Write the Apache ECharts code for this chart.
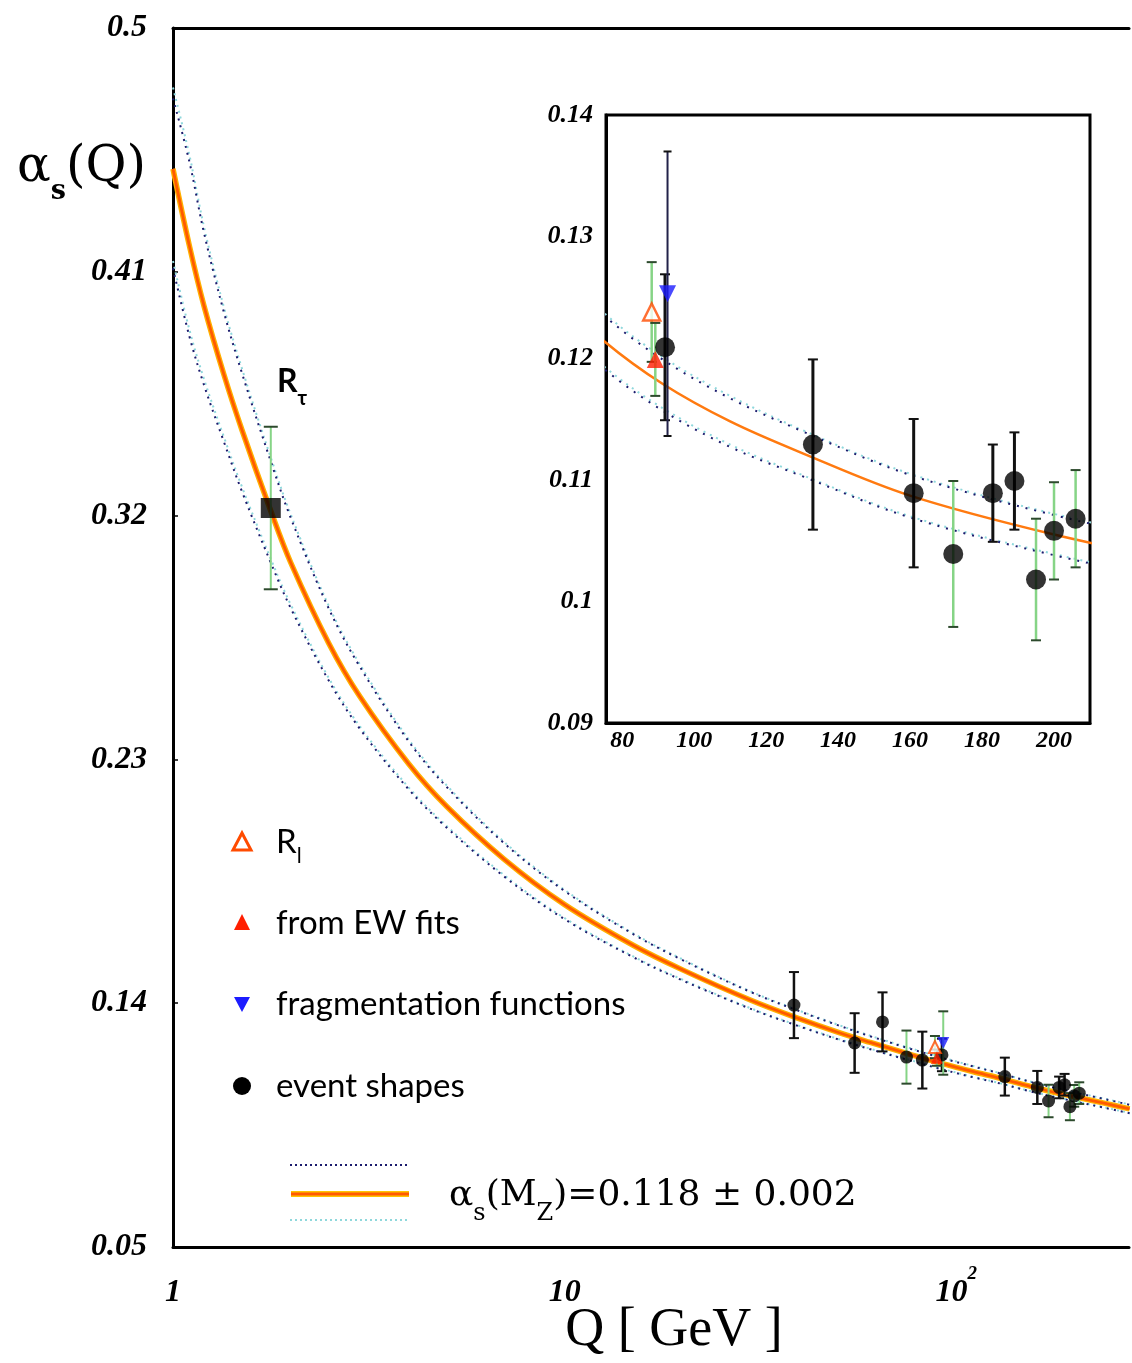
<!DOCTYPE html>
<html><head><meta charset="utf-8">
<script src="https://cdn.jsdelivr.net/npm/echarts@6/dist/echarts.min.js"></script>
<style>html,body{margin:0;padding:0;background:#fff}#c{width:1132px;height:1363px}</style>
</head><body><div id="c"></div>
<script>
// ---------------- data ----------------
const Q_CURVE       = [1, 1.1, 1.2, 1.35, 1.5, 1.777, 2, 2.5, 3, 4, 5, 7, 10, 15, 20, 30, 40, 50, 60, 75, 91.2, 110, 130, 160, 200, 240, 277];
const ALPHA_CENTRAL = [0.448, 0.4199, 0.3974, 0.3719, 0.3516, 0.3217, 0.3025, 0.2728, 0.2532, 0.2283, 0.2126, 0.1932, 0.1764, 0.1613, 0.1523, 0.1410, 0.1341, 0.1292, 0.1256, 0.1214, 0.1179, 0.1148, 0.1122, 0.1087, 0.1055, 0.1030, 0.1010];
const BAND_UP_DARK  = [0.474, 0.4509, 0.4244, 0.3949, 0.3726, 0.340, 0.3190, 0.2856, 0.2642, 0.2366, 0.2198, 0.1991, 0.1814, 0.1654, 0.1559, 0.1440, 0.1369, 0.1318, 0.1279, 0.1235, 0.1199, 0.1167, 0.1140, 0.1104, 0.1071, 0.10455, 0.1025];
const BAND_UP_CYAN  = [0.478, 0.4534, 0.4266, 0.3967, 0.3743, 0.3414, 0.3203, 0.2866, 0.2651, 0.2373, 0.2204, 0.1996, 0.1818, 0.1657, 0.1562, 0.1442, 0.1371, 0.1320, 0.1281, 0.1237, 0.1201, 0.1169, 0.1141, 0.1105, 0.1072, 0.1047, 0.1026];
const BAND_LO_DARK  = [0.4113, 0.3864, 0.3682, 0.3471, 0.3289, 0.3026, 0.2857, 0.2590, 0.2413, 0.2189, 0.2048, 0.1868, 0.1710, 0.1569, 0.1484, 0.1378, 0.1313, 0.1266, 0.1231, 0.1191, 0.1157, 0.1127, 0.1103, 0.1069, 0.1038, 0.10133, 0.0994];
const BAND_LO_CYAN  = [0.414, 0.3889, 0.3704, 0.3489, 0.3306, 0.304, 0.2870, 0.2600, 0.2422, 0.2196, 0.2054, 0.1873, 0.1714, 0.1572, 0.1487, 0.1380, 0.1315, 0.1268, 0.1233, 0.1193, 0.1159, 0.1129, 0.1104, 0.1070, 0.1039, 0.10145, 0.0995];

// event shapes
const ES_Q     = [38.5, 55, 64.8, 74.6, 81.9, 91.9, 133, 161, 172, 183, 189, 195, 200, 206];
const ES_ALPHA = [0.1393, 0.1253, 0.1331, 0.1201, 0.1190, 0.1209, 0.1129, 0.1089, 0.1039, 0.1089, 0.1099, 0.1018, 0.1058, 0.1068];
const ES_ERR   = [0.0122, 0.0110, 0.0109, 0.0098, 0.0105, 0.0060, 0.0070, 0.0061, 0.0060, 0.0040, 0.0040, 0.0050, 0.0040, 0.0040];
const ES_GROUP = [0, 0, 0, 1, 0, 0, 0, 0, 1, 0, 0, 1, 1, 1];   // 0 / 1 : two families of measurements
// R_l
const RL_Q = [88.2];  const RL_ALPHA = [0.1238]; const RL_ERR = [0.0041];
// from EW fits
const EW_Q = [89.2];  const EW_ALPHA = [0.1199]; const EW_ERR = [0.0030];
// fragmentation functions
const FF_Q = [92.6];  const FF_ALPHA = [0.1253]; const FF_ERR = [0.0117];
// R_tau
const TAU_Q = [1.777]; const TAU_ALPHA = [0.3228]; const TAU_ERR = [0.0300];

// tick labels
const MAIN_X_TICKS  = [1, 10, 100];
const MAIN_Y_TICKS  = [0.05, 0.14, 0.23, 0.32, 0.41, 0.5];
const INSET_X_TICKS = [80, 100, 120, 140, 160, 180, 200];
const INSET_Y_TICKS = [0.09, 0.10, 0.11, 0.12, 0.13, 0.14];

// ---------------- chart ----------------
const chart = echarts.init(document.getElementById('c'), null, {renderer: 'canvas'});
const near = (list, v) => list.some(t => Math.abs(t - v) < 1e-7 * Math.max(1, Math.abs(t)));
const LAB_FONT = "'Liberation Serif', serif";

const ORANGE = '#ff5a00', NAVY = '#1c1c6e', CYAN = '#8fd8dc', GREEN = '#86d486';

function curve(data, color, width, type, xi, yi, z) {
  return { type: 'line', xAxisIndex: xi, yAxisIndex: yi, data: Q_CURVE.map((q, i) => [q, data[i]]),
    showSymbol: false, smooth: 0.35, clip: true, z: z || 2, silent: true,
    lineStyle: { color: color, width: width, type: type } };
}
function errSeries(qs, as, es, gs, xi, yi, cap, bw, filt) {
  const d = [];
  qs.forEach((q, i) => { if (!filt || filt(q)) d.push([q, as[i] - es[i], as[i] + es[i], gs[i]]); });
  return { type: 'custom', xAxisIndex: xi, yAxisIndex: yi, data: d, clip: true, z: 3, silent: true,
    renderItem: (params, api) => {
      const x = api.value(0), lo = api.value(1), hi = api.value(2), g = api.value(3);
      const p1 = api.coord([x, hi]), p2 = api.coord([x, lo]);
      const col = g === 1 ? GREEN : (g === 2 ? '#22224a' : '#111');
      const w = g === 0 ? bw : (g === 2 ? 2 : bw - 0.5);
      const capCol = g === 1 ? '#2d4a2d' : '#111';
      return { type: 'group', children: [
        { type: 'line', shape: { x1: p1[0], y1: p1[1], x2: p2[0], y2: p2[1] }, style: { stroke: col, lineWidth: w } },
        { type: 'line', shape: { x1: p1[0] - cap, y1: p1[1], x2: p1[0] + cap, y2: p1[1] }, style: { stroke: capCol, lineWidth: 2 } },
        { type: 'line', shape: { x1: p2[0] - cap, y1: p2[1], x2: p2[0] + cap, y2: p2[1] }, style: { stroke: capCol, lineWidth: 2 } }
      ]};
    } };
}
function pts(qs, as, xi, yi, symbol, size, style, rot, filt) {
  const d = [];
  qs.forEach((q, i) => { if (!filt || filt(q)) d.push([q, as[i]]); });
  return { type: 'scatter', xAxisIndex: xi, yAxisIndex: yi, data: d, symbol: symbol, symbolSize: size,
    symbolRotate: rot || 0, itemStyle: style, z: 4, silent: true, clip: true };
}

const inInset = q => q >= 85;

const series = [];
// main panel (x 0, y 0)
series.push(curve(BAND_UP_CYAN, CYAN, 2, [2, 4], 0, 0));
series.push(curve(BAND_LO_CYAN, CYAN, 2, [2, 4], 0, 0));
series.push(curve(BAND_UP_DARK, NAVY, 2, [2, 5], 0, 0));
series.push(curve(BAND_LO_DARK, NAVY, 2, [2, 5], 0, 0));
series.push(curve(ALPHA_CENTRAL, '#ffb000', 5.5, 'solid', 0, 0, 2));
series.push(curve(ALPHA_CENTRAL, ORANGE, 2.8, 'solid', 0, 0, 2));
series.push(errSeries(ES_Q, ES_ALPHA, ES_ERR, ES_GROUP, 0, 0, 5, 2.5));
series.push(errSeries(RL_Q, RL_ALPHA, RL_ERR, [1], 0, 0, 5, 2.5));
series.push(errSeries(EW_Q, EW_ALPHA, EW_ERR, [1], 0, 0, 5, 2.5));
series.push(errSeries(FF_Q, FF_ALPHA, FF_ERR, [1], 0, 0, 5, 2.5));
series.push(errSeries(TAU_Q, TAU_ALPHA, TAU_ERR, [1], 0, 0, 7, 2.5));
series.push(pts(ES_Q, ES_ALPHA, 0, 0, 'circle', 13, { color: '#000' }));
series.push(pts(RL_Q, RL_ALPHA, 0, 0, 'triangle', 12, { color: '#fff', borderColor: '#ff4b00', borderWidth: 2 }));
series.push(pts(EW_Q, EW_ALPHA, 0, 0, 'triangle', 12, { color: '#ff1e00' }));
series.push(pts(FF_Q, FF_ALPHA, 0, 0, 'triangle', 12, { color: '#1c1cff' }, 180));
series.push(pts(TAU_Q, TAU_ALPHA, 0, 0, 'rect', 20, { color: '#000' }));
// inset panel (x 2, y 1)
series.push(curve(BAND_UP_CYAN, CYAN, 2, [2, 5], 2, 1));
series.push(curve(BAND_LO_CYAN, CYAN, 2, [2, 5], 2, 1));
series.push(curve(BAND_UP_DARK, NAVY, 2, [2, 7], 2, 1));
series.push(curve(BAND_LO_DARK, NAVY, 2, [2, 7], 2, 1));
series.push(curve(ALPHA_CENTRAL, '#ff7a10', 2.5, 'solid', 2, 1));
series.push(errSeries(ES_Q, ES_ALPHA, ES_ERR, ES_GROUP, 2, 1, 5, 3, inInset));
series.push(errSeries(RL_Q, RL_ALPHA, RL_ERR, [1], 2, 1, 5, 3));
series.push(errSeries(EW_Q, EW_ALPHA, EW_ERR, [1], 2, 1, 5, 3));
series.push(errSeries(FF_Q, FF_ALPHA, FF_ERR, [2], 2, 1, 4, 3));
series.push(pts(ES_Q, ES_ALPHA, 2, 1, 'circle', 20, { color: '#000' }, 0, inInset));
series.push(pts(RL_Q, RL_ALPHA, 2, 1, 'triangle', 17, { color: '#fff', borderColor: '#ff4b00', borderWidth: 2.5 }));
series.push(pts(EW_Q, EW_ALPHA, 2, 1, 'triangle', 17, { color: '#ff1e00' }));
series.push(pts(FF_Q, FF_ALPHA, 2, 1, 'triangle', 17, { color: '#1c1cff' }, 180));

// ---------------- graphic text helpers ----------------
const mctx = document.createElement('canvas').getContext('2d');
function seq(x, y, parts) {
  const out = []; let cx = x;
  parts.forEach(p => {
    mctx.font = p.font; const w = mctx.measureText(p.t).width;
    out.push({ type: 'text', x: cx, y: y + (p.dy || 0), z: 100, silent: true,
      style: { text: p.t, font: p.font, fill: '#000', align: 'left', verticalAlign: 'middle', textAlign: 'left', textVerticalAlign: 'middle' } });
    cx += w + (p.gap || 0);
  });
  return out;
}
const SERIF = "'DejaVu Serif', serif";
const SANS = "Lato, 'Noto Sans', sans-serif";
let graphics = [];
// y title
graphics = graphics.concat(seq(17, 168, [
  { t: 'α', font: `50px ${SERIF}` },
  { t: 's', font: `bold 27px ${SERIF}`, dy: 24 },
  { t: '(Q)', font: `50px ${SERIF}` }
]));
// x title
graphics.push({ type: 'text', x: 674, y: 1331, z: 100, silent: true,
  style: { text: 'Q [ GeV ]', font: `54px ${LAB_FONT}`, fill: '#000', align: 'center', verticalAlign: 'middle', textAlign: 'center', textVerticalAlign: 'middle' } });
// R_tau label
graphics = graphics.concat(seq(277, 382, [
  { t: 'R', font: `bold 32px ${SANS}` },
  { t: 'τ', font: `bold 20px ${SANS}`, dy: 17 }
]));
// legend markers
graphics.push({ type: 'polygon', z: 100, silent: true, shape: { points: [[242, 833], [233, 850], [251, 850]] }, style: { fill: '#fff', stroke: '#ff4b00', lineWidth: 3 } });
graphics.push({ type: 'polygon', z: 100, silent: true, shape: { points: [[242, 914], [234, 930], [250, 930]] }, style: { fill: '#ff1e00' } });
graphics.push({ type: 'polygon', z: 100, silent: true, shape: { points: [[234, 997], [250, 997], [242, 1012]] }, style: { fill: '#1c1cff' } });
graphics.push({ type: 'circle', z: 100, silent: true, shape: { cx: 242, cy: 1086, r: 9 }, style: { fill: '#000' } });
// legend text
graphics = graphics.concat(seq(276, 842, [
  { t: 'R', font: `33px ${SANS}` },
  { t: 'l', font: `21px ${SANS}`, dy: 14 }
]));
graphics = graphics.concat(seq(276, 923, [{ t: 'from EW fits', font: `33px ${SANS}` }]));
graphics = graphics.concat(seq(276, 1004, [{ t: 'fragmentation functions', font: `33px ${SANS}` }]));
graphics = graphics.concat(seq(276, 1086, [{ t: 'event shapes', font: `33px ${SANS}` }]));
// bottom legend lines
graphics.push({ type: 'line', z: 100, silent: true, shape: { x1: 290, y1: 1165, x2: 410, y2: 1165 }, style: { stroke: NAVY, lineWidth: 2, lineDash: [2, 3] } });
graphics.push({ type: 'line', z: 100, silent: true, shape: { x1: 291, y1: 1194, x2: 409, y2: 1194 }, style: { stroke: '#ffc400', lineWidth: 6 } });
graphics.push({ type: 'line', z: 101, silent: true, shape: { x1: 291, y1: 1194, x2: 409, y2: 1194 }, style: { stroke: ORANGE, lineWidth: 3 } });
graphics.push({ type: 'line', z: 100, silent: true, shape: { x1: 290, y1: 1220, x2: 410, y2: 1220 }, style: { stroke: CYAN, lineWidth: 2, lineDash: [2, 3] } });
graphics = graphics.concat(seq(449, 1196, [
  { t: 'α', font: `36px ${SERIF}` },
  { t: 's', font: `24px ${SERIF}`, dy: 18 },
  { t: '(M', font: `36px ${SERIF}` },
  { t: 'Z', font: `24px ${SERIF}`, dy: 18 },
  { t: ')=0.118 ± 0.002', font: `36px ${SERIF}` }
]));

const axisLabelBase = { fontFamily: LAB_FONT, fontWeight: 'bold', fontStyle: 'italic', color: '#000' };

const option = {
  animation: false,
  backgroundColor: '#fff',
  grid: [
    { left: 173, top: 28, right: 0, bottom: 116 },
    { left: 606, top: 115, width: 484, height: 608, show: true, borderColor: '#000', borderWidth: 3, backgroundColor: 'transparent' }
  ],
  xAxis: [
    { type: 'log', logBase: 10, gridIndex: 0, min: 1, max: 276, position: 'bottom',
      axisLine: { lineStyle: { color: '#000', width: 3 } }, axisTick: { show: false }, splitLine: { show: false },
      axisLabel: Object.assign({}, axisLabelBase, { fontSize: 32, margin: 18, showMinLabel: true,
        formatter: v => {
          if (!near(MAIN_X_TICKS, v)) return '';
          if (Math.abs(v - 100) < 1e-6) return '{b|10}{sup|2}';
          return '{b|' + Math.round(v) + '}';
        },
        rich: { b: { fontFamily: LAB_FONT, fontWeight: 'bold', fontStyle: 'italic', fontSize: 32, padding: [12, 0, 0, 0] },
                sup: { fontFamily: LAB_FONT, fontWeight: 'bold', fontStyle: 'italic', fontSize: 19, verticalAlign: 'top' } } }) },
    { type: 'log', logBase: 10, gridIndex: 0, min: 1, max: 276, position: 'top',
      axisLine: { lineStyle: { color: '#000', width: 3 } }, axisTick: { show: false }, axisLabel: { show: false }, splitLine: { show: false } },
    { type: 'value', gridIndex: 1, min: 75.5, max: 210, splitNumber: 7,
      axisLine: { lineStyle: { color: '#000', width: 3 } }, axisTick: { show: false }, splitLine: { show: false },
      axisLabel: Object.assign({}, axisLabelBase, { fontSize: 24, margin: 6,
        formatter: v => near(INSET_X_TICKS, v) ? String(Math.round(v)) : '' }) }
  ],
  yAxis: [
    { type: 'value', gridIndex: 0, min: 0.05, max: 0.5, interval: 0.09,
      axisLine: { lineStyle: { color: '#000', width: 3 } },
      axisTick: { show: true, inside: true, length: 5, lineStyle: { color: '#000', width: 1.5 } }, splitLine: { show: false },
      axisLabel: Object.assign({}, axisLabelBase, { fontSize: 32, margin: 26,
        formatter: v => near(MAIN_Y_TICKS, v) ? String(+v.toFixed(2)) : '' }) },
    { type: 'value', gridIndex: 1, min: 0.09, max: 0.14, interval: 0.01,
      axisLine: { lineStyle: { color: '#000', width: 3 } }, axisTick: { show: false }, splitLine: { show: false },
      axisLabel: Object.assign({}, axisLabelBase, { fontSize: 26, margin: 13,
        formatter: v => near(INSET_Y_TICKS, v) ? String(+v.toFixed(2)) : '' }) }
  ],
  series: series,
  graphic: { elements: graphics }
};
chart.setOption(option);
</script></body></html>
